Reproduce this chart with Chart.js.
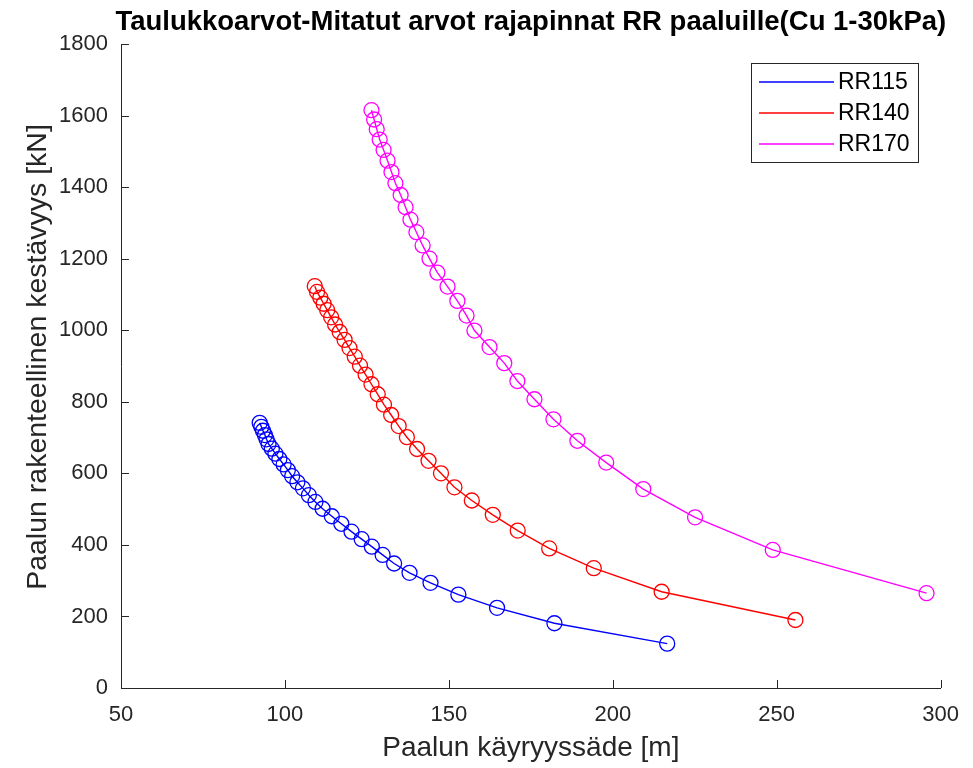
<!DOCTYPE html>
<html>
<head>
<meta charset="utf-8">
<script src="https://cdn.jsdelivr.net/npm/chart.js@4.4.1/dist/chart.umd.min.js"></script>
<style>
  html, body { margin: 0; padding: 0; background: #fff; }
  #wrap { width: 973px; height: 768px; }
</style>
</head>
<body>
<div id="wrap"><canvas id="paaluChart" width="973" height="768"></canvas></div>
<script>
const chartTitle = "Taulukkoarvot-Mitatut arvot rajapinnat RR paaluille(Cu 1-30kPa)";
const xLabel = "Paalun käyryyssäde [m]";
const yLabel = "Paalun rakenteellinen kestävyys [kN]";
const seriesNames = ["RR115", "RR140", "RR170"];
const seriesColors = ["#0000FF", "#FF0000", "#FF00FF"];

// curvature radius [m] and capacity [kN], one point per Cu step
const rr115R = [92.3, 92.8, 93.3, 93.9, 94.4, 95.0, 96.0, 97.1, 98.3, 99.6,
  100.9, 102.2, 103.8, 105.5, 107.3, 109.3, 111.5, 114.3, 117.2, 120.3,
  123.4, 126.5, 129.8, 133.3, 138.0, 144.4, 152.9, 164.7, 182.2, 216.6];
const rr115F = [741, 730, 719, 707, 695, 682, 669, 655, 640, 625,
  609, 592, 575, 558, 539, 520, 501, 480, 459, 437,
  416, 395, 372, 348, 322, 294, 261, 224, 181, 124];

const rr140R = [109.1, 109.8, 110.8, 111.8, 112.9, 114.1, 115.3, 116.7, 118.2, 119.7,
  121.3, 122.9, 124.6, 126.4, 128.3, 130.2, 132.4, 134.7, 137.2, 140.3,
  143.8, 147.6, 151.7, 157.0, 163.4, 171.0, 180.6, 194.2, 214.9, 255.7];
const rr140F = [1123, 1107, 1091, 1074, 1056, 1036, 1016, 995, 973, 950,
  926, 901, 876, 849, 821, 792, 763, 732, 701, 668,
  635, 600, 561, 524, 484, 440, 390, 335, 269, 190];

const rr170R = [126.4, 127.2, 128.0, 128.9, 130.1, 131.3, 132.5, 133.7, 135.3, 136.8,
  138.3, 140.1, 142.0, 144.1, 146.5, 149.6, 152.6, 155.4, 157.8, 162.4,
  166.9, 170.9, 176.1, 181.9, 189.2, 198.0, 209.3, 225.1, 248.8, 295.7];
const rr170F = [1615, 1589, 1562, 1533, 1504, 1474, 1442, 1411, 1378, 1344,
  1309, 1274, 1237, 1200, 1161, 1122, 1082, 1041, 999, 953,
  908, 858, 807, 751, 691, 630, 556, 477, 386, 265];

const xTicks = [50, 100, 150, 200, 250, 300];
const yTicks = [0, 200, 400, 600, 800, 1000, 1200, 1400, 1600, 1800];

const axisColor = "#262626";
const fontFamily = "'Liberation Sans', Arial, Helvetica, sans-serif";

const allR = [rr115R, rr140R, rr170R];
const allF = [rr115F, rr140F, rr170F];

const datasets = seriesNames.map((name, i) => ({
  label: name,
  data: allR[i].map((r, j) => ({ x: r, y: allF[i][j] })),
  showLine: true,
  borderColor: seriesColors[i],
  backgroundColor: "rgba(0,0,0,0)",
  borderWidth: 1.4,
  pointRadius: 7.5,
  pointBorderWidth: 1.3,
  pointBorderColor: seriesColors[i],
  pointBackgroundColor: "rgba(0,0,0,0)",
  tension: 0,
}));

// inward ticks, titles and legend box, like the MATLAB figure
const matlabStyle = {
  id: "matlabStyle",
  afterDraw(chart) {
    const ctx = chart.ctx;
    const area = chart.chartArea;
    const xs = chart.scales.x;
    const ys = chart.scales.y;
    ctx.save();
    ctx.strokeStyle = axisColor;
    ctx.lineWidth = 1;
    ctx.beginPath();
    xTicks.forEach((t) => {
      const px = Math.round(xs.getPixelForValue(t)) + 0.5;
      ctx.moveTo(px, area.bottom);
      ctx.lineTo(px, area.bottom - 8);
    });
    yTicks.forEach((t) => {
      const py = Math.round(ys.getPixelForValue(t)) + 0.5;
      ctx.moveTo(area.left, py);
      ctx.lineTo(area.left + 8, py);
    });
    ctx.stroke();

    // title
    ctx.fillStyle = "#000";
    ctx.font = "bold 27.5px " + fontFamily;
    ctx.textAlign = "center";
    ctx.textBaseline = "middle";
    ctx.fillText(chartTitle, (area.left + area.right) / 2, 22);

    // y axis label, a little above the centre of the axis
    ctx.save();
    ctx.translate(38, (area.top + area.bottom) / 2 - 9);
    ctx.rotate(-Math.PI / 2);
    ctx.fillStyle = axisColor;
    ctx.font = "28.5px " + fontFamily;
    ctx.fillText(yLabel, 0, 0);
    ctx.restore();

    // legend
    const bx = 751, by = 63, bw = 167, bh = 99;
    ctx.fillStyle = "#fff";
    ctx.fillRect(bx, by, bw, bh);
    ctx.strokeStyle = axisColor;
    ctx.strokeRect(bx + 0.5, by + 0.5, bw, bh);
    ctx.font = "23px " + fontFamily;
    ctx.textAlign = "left";
    chart.data.datasets.forEach((ds, i) => {
      const rowY = by + 19 + i * 31;
      ctx.strokeStyle = ds.borderColor;
      ctx.lineWidth = 1.6;
      ctx.beginPath();
      ctx.moveTo(bx + 8, rowY);
      ctx.lineTo(bx + 83, rowY);
      ctx.stroke();
      ctx.fillStyle = "#000";
      ctx.fillText(ds.label, bx + 87, rowY + 1);
    });
    ctx.restore();
  },
};

new Chart(document.getElementById("paaluChart"), {
  type: "scatter",
  data: { datasets },
  plugins: [matlabStyle],
  options: {
    responsive: false,
    animation: false,
    layout: { padding: { top: 44, right: 31, left: 0, bottom: 0 } },
    plugins: {
      legend: { display: false },
      tooltip: { enabled: false },
      title: { display: false },
    },
    scales: {
      x: {
        type: "linear",
        min: 50,
        max: 300,
        afterFit: (scale) => { scale.height = 80; },
        afterBuildTicks: (scale) => { scale.ticks = xTicks.map((v) => ({ value: v })); },
        ticks: {
          color: axisColor,
          font: { family: fontFamily, size: 22 },
          padding: 14,
          maxRotation: 0,
          callback: (v) => String(v),
        },
        grid: { display: true, drawOnChartArea: false, drawTicks: false },
        border: { display: true, color: axisColor, width: 1 },
        title: {
          display: true,
          text: xLabel,
          color: axisColor,
          font: { family: fontFamily, size: 28 },
          padding: { top: 0, bottom: 3 },
        },
      },
      y: {
        type: "linear",
        min: 0,
        max: 1800,
        afterFit: (scale) => { scale.width = 121; },
        afterBuildTicks: (scale) => { scale.ticks = yTicks.map((v) => ({ value: v })); },
        ticks: {
          color: axisColor,
          font: { family: fontFamily, size: 22 },
          padding: 13,
          callback: (v) => String(v),
        },
        grid: { display: true, drawOnChartArea: false, drawTicks: false },
        border: { display: true, color: axisColor, width: 1 },
        title: { display: false },
      },
    },
  },
});
</script>
</body>
</html>
